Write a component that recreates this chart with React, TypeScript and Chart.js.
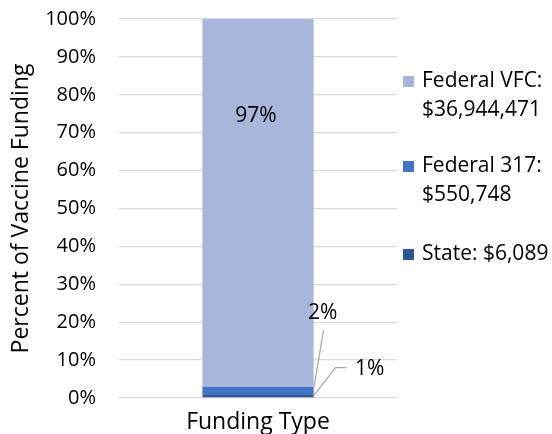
import React, { useEffect, useRef } from 'react';
import { Chart, registerables } from 'chart.js';

Chart.register(...registerables);

const categories = ['Funding Type'];
const stateValues = [1];
const federal317Values = [2];
const federalVfcValues = [97];
const seriesNames = ['State', 'Federal 317', 'Federal VFC'];
const legendLines = [
  ['Federal VFC:', '$36,944,471'],
  ['Federal 317:', '$550,748'],
  ['State: $6,089'],
];
const dataLabels = ['1%', '2%', '97%'];
const yTickStep = 10;
const yMax = 100;
const yTitle = 'Percent of Vaccine Funding';

const COLORS = ['#2f5597', '#4472c4', '#a9b6dc'];
const FONT = "'Open Sans', 'Liberation Sans', sans-serif";

const overlayPlugin = {
  id: 'overlay',
  afterDraw(chart: any) {
    const ctx = chart.ctx;
    const area = chart.chartArea;
    const y = chart.scales.y;
    ctx.save();
    ctx.fillStyle = '#000';
    ctx.font = `21px ${FONT}`;
    ctx.textBaseline = 'middle';

    // legend
    const itemTops = [62, 147, 235];
    const order = [2, 1, 0];
    order.forEach((ds, i) => {
      const cy = area.top + itemTops[i];
      ctx.fillStyle = COLORS[ds];
      ctx.fillRect(area.right + 6, cy - 5, 11, 11);
      ctx.fillStyle = '#000';
      ctx.textAlign = 'left';
      legendLines[i].forEach((line, j) => {
        ctx.fillText(line, area.right + 25, cy + j * 29.5);
      });
    });

    // data labels
    const metaTop = chart.getDatasetMeta(2).data[0];
    const metaMid = chart.getDatasetMeta(1).data[0];
    const metaBot = chart.getDatasetMeta(0).data[0];
    ctx.textAlign = 'center';
    ctx.fillText(dataLabels[2], metaTop.x - 2, y.getPixelForValue(74.5));

    const right = metaMid.x + metaMid.width / 2;
    ctx.strokeStyle = '#a6a6a6';
    ctx.lineWidth = 1.2;
    // 2% leader
    ctx.beginPath();
    ctx.moveTo(right, (metaMid.y + metaMid.base) / 2 - 1);
    ctx.lineTo(right + 10, y.getPixelForValue(18));
    ctx.stroke();
    ctx.fillText(dataLabels[1], right + 9, y.getPixelForValue(22.5));
    // 1% leader
    ctx.beginPath();
    ctx.moveTo(right, (metaBot.y + metaBot.base) / 2);
    ctx.lineTo(right + 22, y.getPixelForValue(8));
    ctx.lineTo(right + 33, y.getPixelForValue(8));
    ctx.stroke();
    ctx.fillText(dataLabels[0], right + 56, y.getPixelForValue(7.7));
    ctx.restore();
  },
};

export default function App() {
  const ref = useRef<HTMLCanvasElement>(null);
  useEffect(() => {
    document.body.style.margin = '0';
    const chart = new Chart(ref.current!, {
      type: 'bar',
      data: {
        labels: categories,
        datasets: [
          { label: seriesNames[0], data: stateValues, backgroundColor: COLORS[0] },
          { label: seriesNames[1], data: federal317Values, backgroundColor: COLORS[1] },
          { label: seriesNames[2], data: federalVfcValues, backgroundColor: COLORS[2] },
        ],
      },
      options: {
        animation: false,
        responsive: false,
        layout: { padding: { top: 19, left: 8, right: 155, bottom: 0 } },
        datasets: { bar: { barPercentage: 0.5, categoryPercentage: 0.8 } },
        plugins: { legend: { display: false }, tooltip: { enabled: false } },
        scales: {
          x: {
            stacked: true,
            grid: { display: false },
            border: { display: false },
            ticks: { color: '#000', font: { family: FONT, size: 23 }, padding: 3 },
            afterFit: (s: any) => { s.height = 36; },
          },
          y: {
            stacked: true,
            min: 0,
            max: yMax,
            ticks: {
              stepSize: yTickStep,
              color: '#000',
              font: { family: FONT, size: 20 },
              padding: 23,
              callback: (v: any) => v + '%',
            },
            grid: { color: '#d9d9d9', drawTicks: false, lineWidth: 1.3 },
            border: { display: false },
            title: {
              display: true,
              text: yTitle,
              color: '#000',
              font: { family: FONT, size: 23 },
              padding: 0,
            },
            afterFit: (s: any) => {
              s.width = 111;
              s.paddingTop = 0;
              s.paddingBottom = 0;
            },
          },
        },
      },
      plugins: [overlayPlugin],
    });
    return () => chart.destroy();
  }, []);
  return <canvas ref={ref} width={552} height={434} style={{ display: 'block' }} />;
}
